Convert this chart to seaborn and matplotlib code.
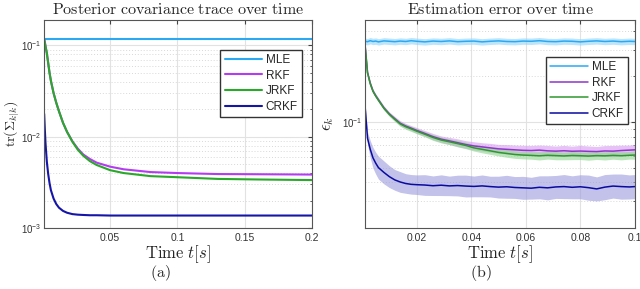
import math

import matplotlib.pyplot as plt
import matplotlib.ticker as mticker
import seaborn as sns

# ---- (a) posterior covariance trace ----
t_a = [0.001, 0.0015, 0.002, 0.003, 0.004, 0.005, 0.006, 0.008, 0.010, 0.012,
       0.015, 0.018, 0.022, 0.026, 0.030, 0.035, 0.040, 0.050, 0.060, 0.080,
       0.100, 0.130, 0.160, 0.200]
mle_a = [0.117] * len(t_a)
rkf_a = [0.117, 0.108, 0.098, 0.082, 0.064, 0.050, 0.041, 0.030, 0.0235, 0.019,
         0.0142, 0.0113, 0.0089, 0.0074, 0.0064, 0.0057, 0.0052, 0.0047, 0.0044, 0.0041,
         0.0040, 0.0039, 0.00388, 0.00385]
jrkf_a = [0.117, 0.108, 0.098, 0.082, 0.064, 0.050, 0.041, 0.030, 0.0235, 0.019,
          0.0142, 0.0113, 0.0088, 0.0072, 0.0062, 0.0054, 0.0049, 0.0043, 0.0040, 0.0037,
          0.0036, 0.00345, 0.0034, 0.00335]
crkf_a = [0.0178, 0.012, 0.0085, 0.0053, 0.0039, 0.0031, 0.0026, 0.0021, 0.00183, 0.00167,
          0.00154, 0.00147, 0.00142, 0.0014, 0.00139, 0.00138, 0.00138, 0.00137, 0.00137, 0.00137,
          0.00137, 0.00137, 0.00137, 0.00137]

# ---- (b) estimation error ----
t_b = [0.001, 0.002, 0.003, 0.004, 0.005, 0.006, 0.008, 0.010, 0.012, 0.014,
       0.016, 0.018, 0.020, 0.023, 0.026, 0.029, 0.032, 0.035, 0.038, 0.041,
       0.044, 0.047, 0.050, 0.053, 0.056, 0.059, 0.062, 0.065, 0.068, 0.071,
       0.074, 0.077, 0.080, 0.083, 0.086, 0.089, 0.092, 0.095, 0.098, 0.100]
mle_b = [0.340, 0.338, 0.343, 0.339, 0.341, 0.337, 0.342, 0.340, 0.338, 0.341,
         0.339, 0.343, 0.340, 0.337, 0.341, 0.339, 0.342, 0.338, 0.340, 0.341,
         0.337, 0.340, 0.342, 0.339, 0.338, 0.341, 0.340, 0.343, 0.339, 0.338,
         0.341, 0.340, 0.337, 0.340, 0.342, 0.339, 0.341, 0.338, 0.340, 0.339]
rkf_b = [0.335, 0.212, 0.180, 0.160, 0.149, 0.140, 0.124, 0.113, 0.105, 0.098,
         0.094, 0.091, 0.088, 0.084, 0.080, 0.077, 0.075, 0.073, 0.071, 0.0695,
         0.0685, 0.0675, 0.0665, 0.066, 0.0655, 0.065, 0.0648, 0.0652, 0.0645, 0.0642,
         0.0646, 0.0641, 0.0643, 0.0640, 0.0638, 0.0644, 0.0642, 0.0648, 0.0652, 0.0655]
jrkf_b = [0.335, 0.210, 0.178, 0.159, 0.148, 0.139, 0.123, 0.112, 0.104, 0.097,
          0.093, 0.090, 0.087, 0.083, 0.079, 0.076, 0.074, 0.072, 0.070, 0.0675,
          0.066, 0.0645, 0.063, 0.062, 0.061, 0.0605, 0.0602, 0.0598, 0.0603, 0.0600,
          0.0597, 0.0601, 0.0599, 0.0596, 0.0600, 0.0598, 0.0602, 0.0599, 0.0603, 0.0605]
crkf_b = [0.134, 0.078, 0.066, 0.058, 0.0535, 0.050, 0.0465, 0.0436, 0.0415, 0.0402,
          0.0393, 0.0388, 0.0386, 0.0384, 0.0380, 0.0383, 0.0379, 0.0381, 0.0378, 0.0376,
          0.0379, 0.0375, 0.0372, 0.0374, 0.0370, 0.0368, 0.0366, 0.0371, 0.0368, 0.0373,
          0.0375, 0.0371, 0.0374, 0.0369, 0.0362, 0.0372, 0.0378, 0.0375, 0.0373, 0.0375]
# band half-width as a multiplicative factor
mle_spread = [1.05] * len(t_b)
rkf_spread = [1.01, 1.02, 1.03, 1.03, 1.03, 1.03, 1.03, 1.03, 1.035, 1.04,
              1.04, 1.04, 1.045, 1.045, 1.05, 1.05, 1.055, 1.06, 1.06, 1.065,
              1.065, 1.07, 1.07, 1.075, 1.075, 1.08, 1.08, 1.08, 1.085, 1.08,
              1.085, 1.08, 1.09, 1.085, 1.08, 1.085, 1.09, 1.085, 1.08, 1.085]
jrkf_spread = [1.01, 1.02, 1.03, 1.03, 1.03, 1.03, 1.03, 1.03, 1.035, 1.035,
               1.04, 1.04, 1.04, 1.04, 1.045, 1.045, 1.045, 1.05, 1.05, 1.05,
               1.055, 1.055, 1.055, 1.06, 1.06, 1.06, 1.06, 1.065, 1.06, 1.065,
               1.06, 1.065, 1.06, 1.065, 1.06, 1.065, 1.06, 1.065, 1.06, 1.065]
crkf_spread = [1.02, 1.10, 1.14, 1.17, 1.18, 1.19, 1.19, 1.18, 1.17, 1.17,
               1.16, 1.16, 1.16, 1.17, 1.16, 1.17, 1.16, 1.17, 1.18, 1.17,
               1.18, 1.17, 1.18, 1.19, 1.18, 1.19, 1.18, 1.19, 1.20, 1.19,
               1.20, 1.19, 1.20, 1.21, 1.20, 1.21, 1.20, 1.21, 1.20, 1.20]

names = ['MLE', 'RKF', 'JRKF', 'CRKF']
colors_a = ['#2aa9f2', '#b43cf0', '#2aa82a', '#1515a8']
colors_b = ['#2aa9f2', '#8e36c8', '#2f972f', '#0a0aa0']
band_b = ['#8fd4fa', '#d69af0', '#8fd68f', '#9a9adc']

sns.set_style('white')
plt.rcParams['font.family'] = ['Liberation Sans', 'DejaVu Sans']
plt.rcParams['mathtext.fontset'] = 'cm'

fig = plt.figure(figsize=(6.4, 2.89), dpi=100)
ax1 = fig.add_axes([0.069, 0.211, 0.4185, 0.72])
ax2 = fig.add_axes([0.570, 0.211, 0.422, 0.72])


def style_axes(ax):
    ax.set_yscale('log')
    ax.grid(True, which='major', axis='both', color='#e2e2e2', linewidth=0.8, linestyle='-')
    ax.grid(True, which='minor', axis='y', color='#d8d8d8', linewidth=0.7, linestyle=(0, (1, 2)))
    ax.set_axisbelow(True)
    for s in ax.spines.values():
        s.set_color('#555555')
        s.set_linewidth(0.8)
    ax.tick_params(which='both', direction='in', top=True, right=True, labelsize=7.5,
                   colors='#444444', labelcolor='#333333')
    ax.tick_params(which='major', length=3)
    ax.tick_params(which='minor', length=1.5)
    ax.tick_params(axis='y', labelsize=7, pad=2)
    ax.yaxis.set_major_formatter(mticker.FuncFormatter(
        lambda v, p: r'$\mathregular{10^{%d}}$' % round(math.log10(v))))
    ax.yaxis.set_minor_formatter(mticker.NullFormatter())


def add_legend(ax, anchor):
    ax.legend(loc='upper right', bbox_to_anchor=anchor, fontsize=8.5, fancybox=False,
              edgecolor='#333333', framealpha=1, handlelength=3.2, borderpad=0.35,
              labelspacing=0.3, handletextpad=0.3, borderaxespad=0)


# panel (a)
for vals, name, col in zip([mle_a, rkf_a, jrkf_a, crkf_a], names, colors_a):
    sns.lineplot(x=t_a, y=vals, ax=ax1, color=col, linewidth=1.5, label=name)
style_axes(ax1)
ax1.set_xlim(t_a[0], t_a[-1])
ax1.set_ylim(1e-3, 0.19)
ax1.set_xticks([0.05, 0.1, 0.15, 0.2])
ax1.set_xticklabels(['0.05', '0.1', '0.15', '0.2'])
ax1.set_title(r'$\mathrm{Posterior\ covariance\ trace\ over\ time}$', fontsize=11.5, pad=4)
ax1.set_xlabel(r'$\mathrm{Time}\ t[s]$', fontsize=12, labelpad=0)
ax1.set_ylabel(r'$\mathrm{tr}(\mathbf{\Sigma}_{k|k})$', fontsize=10)
ax1.yaxis.set_label_coords(-0.082, 0.5)
add_legend(ax1, (0.963, 0.856))

# panel (b)
for vals, spread, name, col, bc in zip([mle_b, rkf_b, jrkf_b, crkf_b],
                                       [mle_spread, rkf_spread, jrkf_spread, crkf_spread],
                                       names, colors_b, band_b):
    lo = [v / s for v, s in zip(vals, spread)]
    hi = [v * s for v, s in zip(vals, spread)]
    ax2.fill_between(t_b, lo, hi, color=bc, alpha=0.6, linewidth=0)
for vals, name, col in zip([mle_b, rkf_b, jrkf_b, crkf_b], names, colors_b):
    sns.lineplot(x=t_b, y=vals, ax=ax2, color=col, linewidth=1.1, label=name)
style_axes(ax2)
ax2.set_xlim(t_b[0], t_b[-1])
ax2.set_ylim(0.02, 0.47)
ax2.set_xticks([0.02, 0.04, 0.06, 0.08, 0.1])
ax2.set_xticklabels(['0.02', '0.04', '0.06', '0.08', '0.1'])
ax2.set_title(r'$\mathrm{Estimation\ error\ over\ time}$', fontsize=11.5, pad=4)
ax2.set_xlabel(r'$\mathrm{Time}\ t[s]$', fontsize=12, labelpad=0)
ax2.set_ylabel(r'$\epsilon_k$', fontsize=12)
ax2.yaxis.set_label_coords(-0.105, 0.5)
add_legend(ax2, (0.974, 0.822))

fig.text(0.25, 0.055, r'$\mathrm{(a)}$', ha='center', va='center', fontsize=11.5)
fig.text(0.752, 0.055, r'$\mathrm{(b)}$', ha='center', va='center', fontsize=11.5)

fig.savefig('out.png', dpi=100)
